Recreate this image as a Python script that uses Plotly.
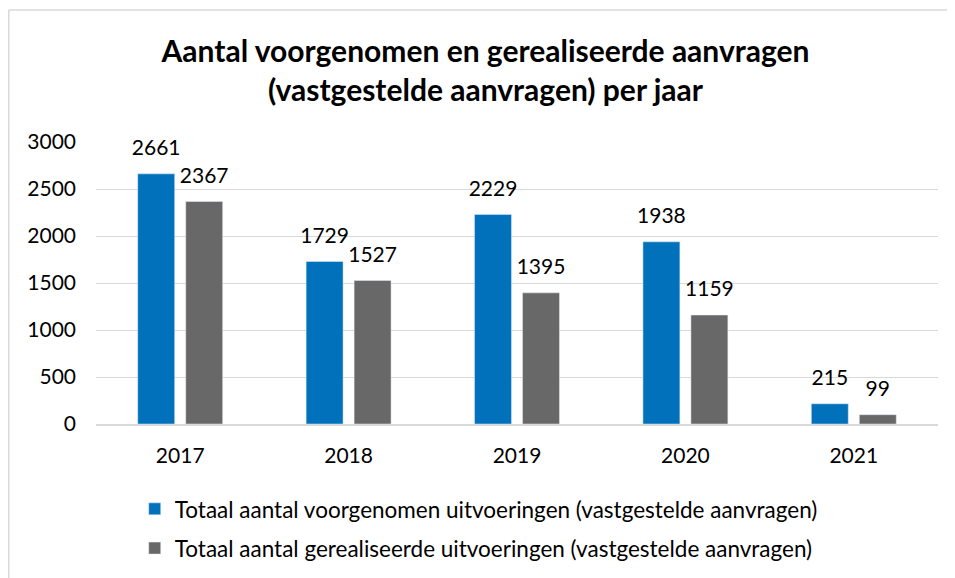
import plotly.graph_objects as go

years = ["2017", "2018", "2019", "2020", "2021"]
voorgenomen = [2661, 1729, 2229, 1938, 215]
gerealiseerd = [2367, 1527, 1395, 1159, 99]
series_names = [
    "Totaal aantal voorgenomen uitvoeringen (vastgestelde aanvragen)",
    "Totaal aantal gerealiseerde uitvoeringen (vastgestelde aanvragen)",
]
y_ticks = [0, 500, 1000, 1500, 2000, 2500, 3000]
title_text = "Aantal voorgenomen en gerealiseerde aanvragen<br>(vastgestelde aanvragen) per jaar"

FONT = "Lato, Open Sans, sans-serif"
BLUE = "#0071BA"
GRAY = "#686868"

fig = go.Figure()
fig.add_trace(go.Bar(x=years, y=voorgenomen, name=series_names[0], marker_color=BLUE,
                     legendgroup="a", offsetgroup="a"))
fig.add_trace(go.Bar(x=years, y=gerealiseerd, name=series_names[1], marker_color=GRAY,
                     legendgroup="b", offsetgroup="b"))

# data labels (text-only scatter aligned with the bar groups)
for vals, grp in ((voorgenomen, "a"), (gerealiseerd, "b")):
    fig.add_trace(go.Scatter(x=years, y=vals, mode="markers+text", text=[str(v) for v in vals],
                             textposition="top center", offsetgroup=grp,
                             marker=dict(size=20, opacity=0), showlegend=False,
                             hoverinfo="skip", cliponaxis=False,
                             textfont=dict(family=FONT, size=21, color="#000000")))

fig.update_layout(
    width=955, height=578,
    paper_bgcolor="white", plot_bgcolor="white",
    barmode="group", bargap=0.43, bargroupgap=0.23,
    scattermode="group", scattergap=0.43,
    margin=dict(l=88, r=25, t=134, b=162),
    title=dict(text="<b>" + title_text + "</b>", x=0.5, xanchor="center",
               y=0.907, yanchor="top",
               font=dict(family=FONT, size=30, color="#000000")),
    xaxis=dict(type="category", showgrid=False, showline=True, linecolor="#d9d9d9",
               linewidth=1.5, ticks="", ticklabelstandoff=12,
               tickfont=dict(family=FONT, size=21, color="#000000")),
    yaxis=dict(range=[0, 3000], tickvals=y_ticks, showgrid=True, gridcolor="#d9d9d9",
               gridwidth=1.2, zeroline=False, showline=False, ticks="",
               ticklabelstandoff=19,
               tickfont=dict(family=FONT, size=21, color="#000000")),
    legend=dict(orientation="v", x=0.046, xanchor="left", y=-0.226, yanchor="top",
                font=dict(family=FONT, size=22.5, color="#000000"),
                tracegroupgap=7),
    showlegend=True,
)

# light chart-area border (left and top edges visible in the reference)
fig.add_shape(type="line", xref="paper", yref="paper", x0=-0.1036, x1=-0.1036,
              y0=-0.57, y1=1.468, line=dict(color="#d9d9d9", width=1.5))
fig.add_shape(type="line", xref="paper", yref="paper", x0=-0.1036, x1=1.03,
              y0=1.468, y1=1.468, line=dict(color="#d9d9d9", width=1.5))

fig.write_html("out.html")
